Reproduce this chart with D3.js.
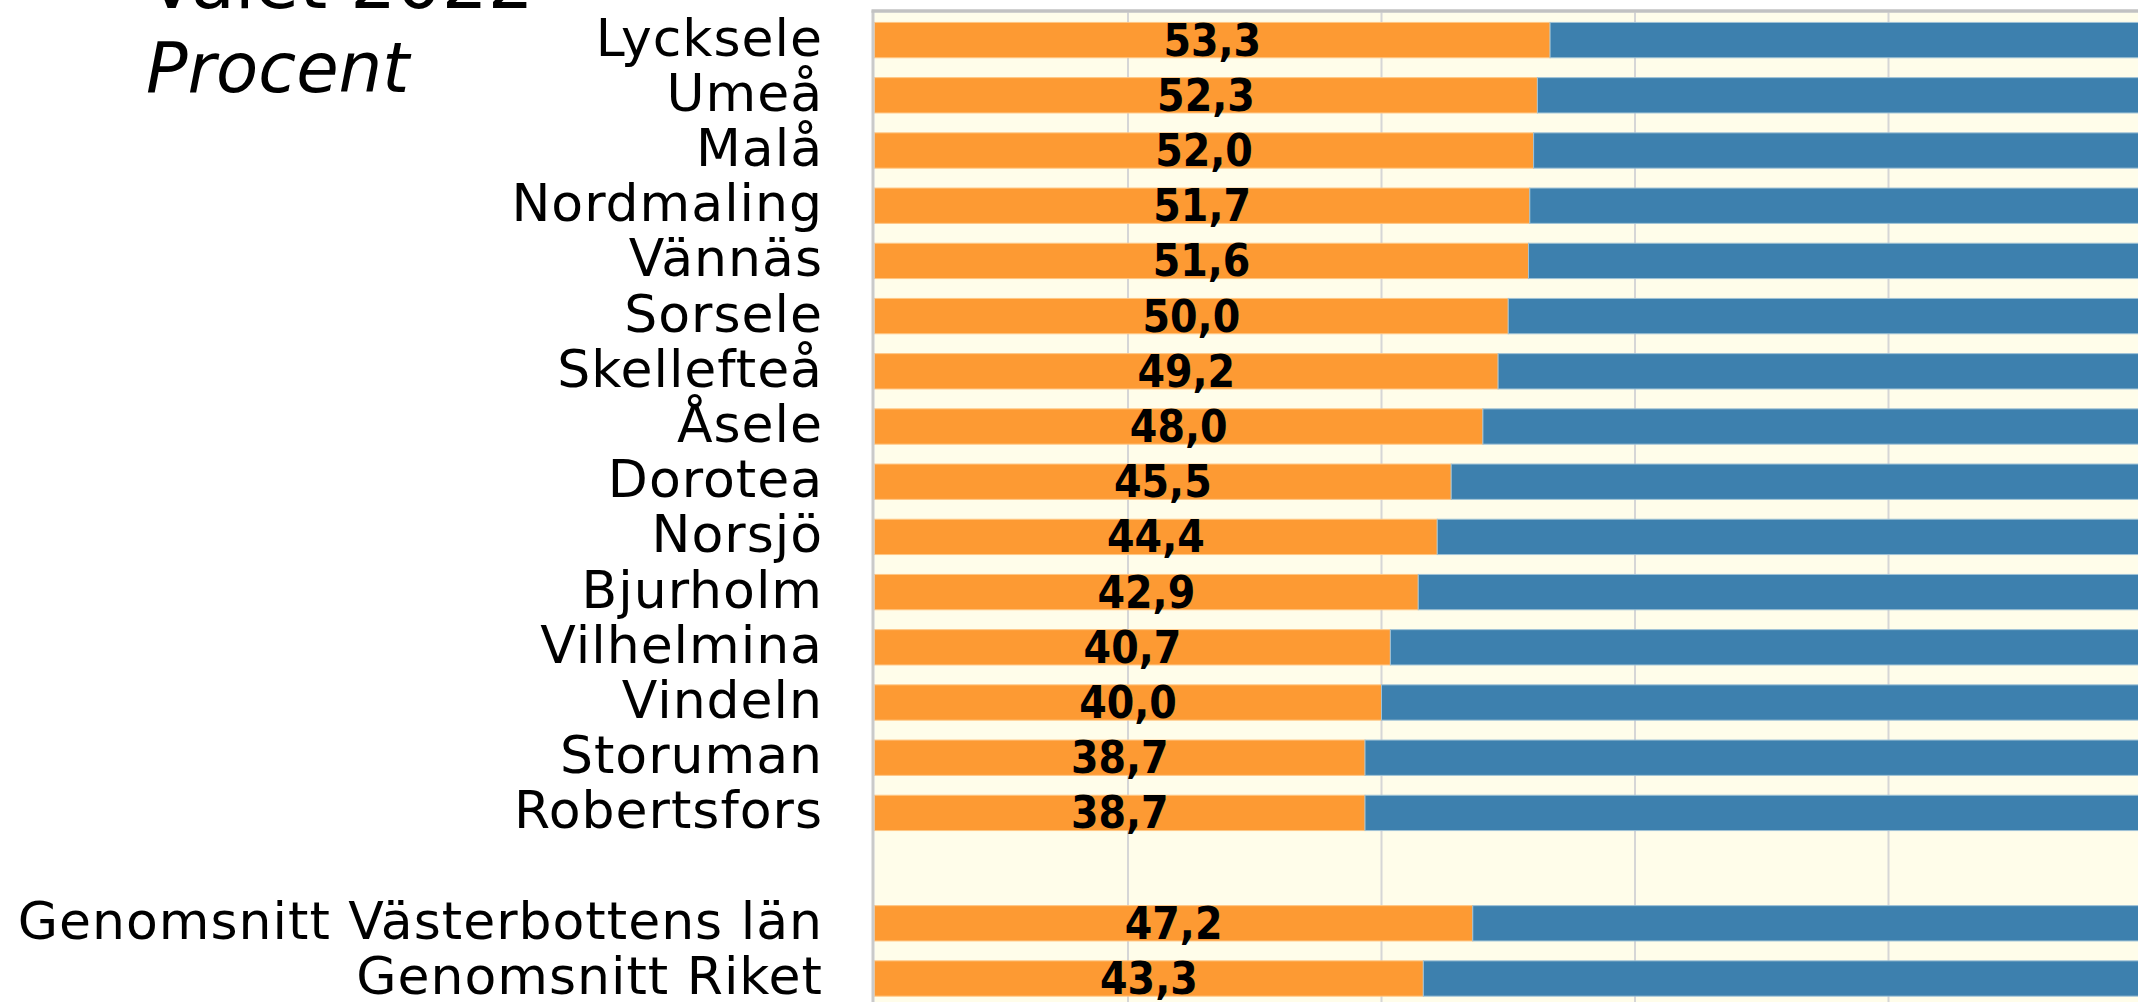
<!DOCTYPE html>
<html>
<head>
<meta charset="utf-8">
<script src="https://cdn.jsdelivr.net/npm/d3@7"></script>
<style>
  body { margin: 0; background: #fff; }
  svg { display: block; }
</style>
</head>
<body>
<svg id="valet-chart" width="2138" height="1002"></svg>
<script>
// Valdeltagande-andel per kommun, valet 2022 (procent)
const kommuner = ["Lycksele", "Umeå", "Malå", "Nordmaling", "Vännäs", "Sorsele", "Skellefteå",
  "Åsele", "Dorotea", "Norsjö", "Bjurholm", "Vilhelmina", "Vindeln", "Storuman", "Robertsfors"];
const kommunVarden = [53.3, 52.3, 52.0, 51.7, 51.6, 50.0, 49.2, 48.0, 45.5, 44.4, 42.9, 40.7, 40.0, 38.7, 38.7];
const snitt = ["Genomsnitt Västerbottens län", "Genomsnitt Riket"];
const snittVarden = [47.2, 43.3];
const xTicks = [0, 20, 40, 60, 80, 100];

const chartWidth = 2138;
const chartHeight = 1002;
const plotLeft = 874.5, plotRight = 2142;
const plotTop = 12.5, rowStep = 55.2;

const svg = d3.select("#valet-chart");

// one empty slot between the municipalities and the averages
const slots = [...kommuner, "__gap__", ...snitt];
const rows = kommuner.map((k, i) => ({ namn: k, andel: kommunVarden[i], rest: 100 - kommunVarden[i] }))
  .concat(snitt.map((k, i) => ({ namn: k, andel: snittVarden[i], rest: 100 - snittVarden[i] })));

const x = d3.scaleLinear().domain([0, 100]).range([plotLeft, plotRight]);
const y = d3.scaleBand()
  .domain(slots)
  .range([plotTop, plotTop + rowStep * slots.length])
  .paddingInner(0.36)
  .paddingOuter(0.18);

// plot background
svg.append("rect")
  .attr("x", plotLeft).attr("y", plotTop)
  .attr("width", plotRight - plotLeft).attr("height", chartHeight - plotTop)
  .attr("fill", "#fffdea");

// vertical gridlines
svg.append("g")
  .selectAll("line")
  .data(xTicks.filter(t => t > 0 && t < 100))
  .enter()
  .append("line")
  .attr("x1", d => x(d)).attr("x2", d => x(d))
  .attr("y1", plotTop).attr("y2", chartHeight)
  .attr("stroke", "#d6d6d6")
  .attr("stroke-width", 2);

// stacked bars
const stack = d3.stack().keys(["andel", "rest"]);
const colors = { andel: "#fd9a33", rest: "#3d80ae" };
const edges = { andel: "#ffc684", rest: "#9fc2d6" };

const layers = svg.append("g")
  .selectAll("g")
  .data(stack(rows))
  .enter()
  .append("g")
  .attr("fill", d => colors[d.key])
  .attr("stroke", d => edges[d.key])
  .attr("stroke-width", 1);

layers.selectAll("rect")
  .data(d => d)
  .enter()
  .append("rect")
  .attr("x", d => x(d[0]))
  .attr("width", d => x(d[1]) - x(d[0]))
  .attr("y", d => y(d.data.namn))
  .attr("height", y.bandwidth());

// axis frame: left and top
svg.append("line")
  .attr("x1", plotLeft - 1.5).attr("x2", plotLeft - 1.5)
  .attr("y1", plotTop - 2).attr("y2", chartHeight)
  .attr("stroke", "#cacaca").attr("stroke-width", 3);
svg.append("line")
  .attr("x1", plotLeft - 3).attr("x2", chartWidth)
  .attr("y1", plotTop - 1.5).attr("y2", plotTop - 1.5)
  .attr("stroke", "#c2c2c2").attr("stroke-width", 3.5);

// value labels
const fmt = v => d3.format(".1f")(v).replace(".", ",");
svg.append("g")
  .selectAll("text")
  .data(rows)
  .enter()
  .append("text")
  .attr("x", d => x(d.andel / 2))
  .attr("y", d => y(d.namn) + y.bandwidth() / 2 + 15.5)
  .attr("text-anchor", "middle")
  .attr("font-family", "'DejaVu Sans Condensed', 'DejaVu Sans', sans-serif")
  .attr("font-stretch", "condensed")
  .attr("font-weight", "bold")
  .attr("font-size", 44)
  .attr("fill", "#000")
  .text(d => fmt(d.andel));

// category labels
svg.append("g")
  .selectAll("text")
  .data(rows)
  .enter()
  .append("text")
  .attr("x", 823)
  .attr("y", d => y(d.namn) + y.bandwidth() / 2 + 15.5)
  .attr("text-anchor", "end")
  .attr("font-family", "'DejaVu Sans', sans-serif")
  .attr("font-size", 52)
  .attr("letter-spacing", 1)
  .attr("fill", "#000")
  .text(d => d.namn);

// title and unit
svg.append("text")
  .attr("x", 147).attr("y", 8)
  .attr("font-family", "'DejaVu Sans', sans-serif")
  .attr("font-size", 72)
  .attr("fill", "#000")
  .text("Valet 2022");
svg.append("text")
  .attr("x", 146).attr("y", 92)
  .attr("font-family", "'DejaVu Sans', sans-serif")
  .attr("font-style", "italic")
  .attr("font-size", 69)
  .attr("fill", "#000")
  .text("Procent");
</script>
</body>
</html>
